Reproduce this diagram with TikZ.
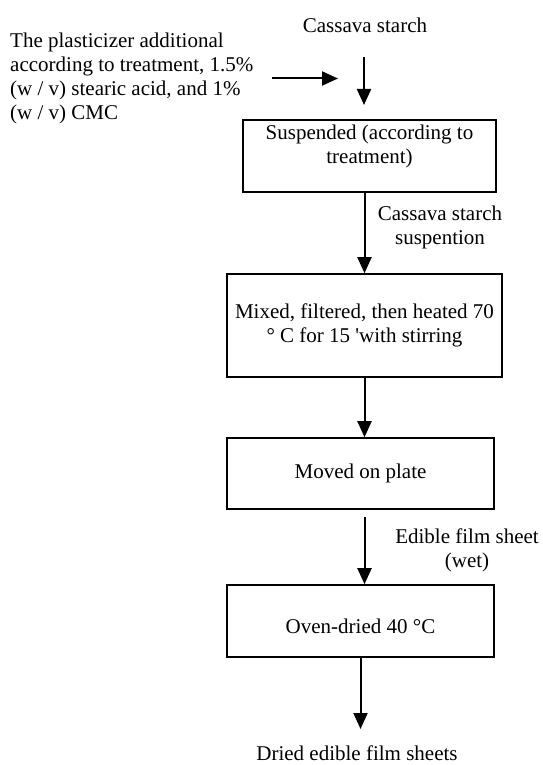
\documentclass[tikz,border=0pt]{standalone}
\usepackage{fontspec}
\setmainfont[Ligatures=TeXOff]{Liberation Serif}
\usetikzlibrary{arrows.meta}

\begin{document}
\begin{tikzpicture}[%
      x=1pt, y=-1pt,
      every node/.style={font=\fontsize{21}{24.3}\selectfont, inner sep=0pt, align=center},
      procbox/.style={draw, line width=1.6pt},
      arr/.style={line width=2pt, -{Triangle[length=16pt,width=14pt]}},
      ]
      \useasboundingbox (0,0) rectangle (542,765);

      \node (starch) at (365,25) {Cassava starch};
      \node [anchor=west, align=left] (plast) at (10,78.5) {The plasticizer additional\\according to treatment, 1.5\%\\(w / v) stearic acid, and 1\%\\(w / v) CMC};

      \node [procbox, minimum width=253pt, minimum height=72pt, text depth=24pt] (susp) at (369.5,156) {Suspended (according to\\treatment)};
      \node [procbox, minimum width=275pt, minimum height=103pt] (mix) at (364.5,325.5) {Mixed, filtered, then heated 70\\° C for 15 'with stirring};
      \node [procbox, minimum width=267pt, minimum height=71pt] (plate) at (360.5,473.5) {Moved on plate};
      \node [procbox, minimum width=267pt, minimum height=72pt, text height=26pt] (oven) at (360.5,621) {Oven-dried 40 °C};

      \node (suspl) at (440,227.5) {Cassava starch\\suspention};
      \node (wet) at (467,550.5) {Edible film sheet\\(wet)};
      \node (dried) at (357,753) {Dried edible film sheets};

      \coordinate (intop) at (364,57);
      \coordinate (inbot) at (364,105);
      \coordinate (plend) at (338,78.5);
      \coordinate (outend) at (360.5,729);

      \draw [arr] (intop) -- (inbot);
      \draw [arr, shorten <=18pt] (plast.east) -- (plend);
      \draw [arr] (mix.north |- susp.south) -- (mix.north);
      \draw [arr] (mix.south) -- (mix.south |- plate.north);
      \draw [arr, shorten <=7pt] (mix.south |- plate.south) -- (mix.south |- oven.north);
      \draw [arr] (oven.south) -- (outend);
      \end{tikzpicture}
\end{document}
